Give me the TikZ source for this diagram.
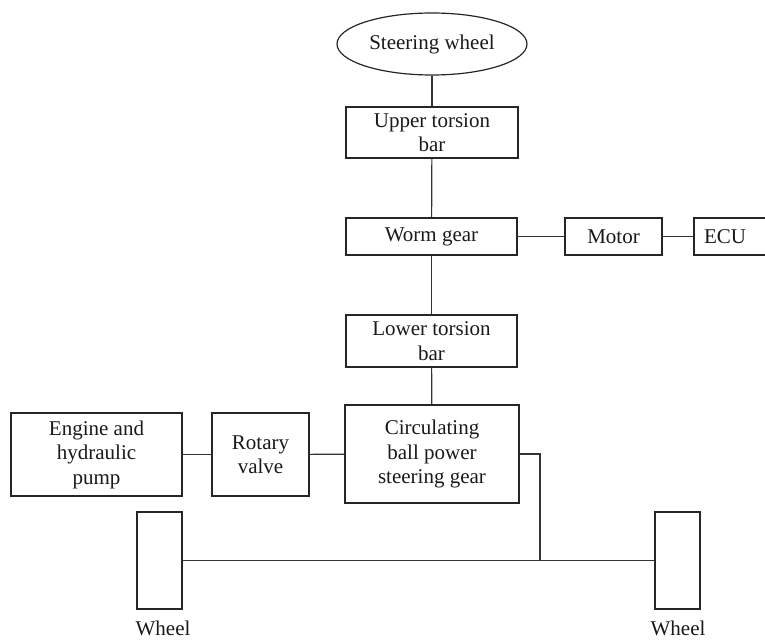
\documentclass[tikz,border=0pt]{standalone}
\usepackage{fontspec}
\setmainfont{Liberation Serif}
\usetikzlibrary{shapes.geometric}
\begin{document}
\begin{tikzpicture}[x=1pt,y=-1pt,
  every node/.style={font=\fontsize{21}{24.5}\selectfont, text=black!90},
  box/.style={draw=black!85, line width=1.2pt, rectangle, inner sep=0pt, align=center},
  oval/.style={draw=black!85, line width=1.2pt, ellipse, inner sep=0pt},
  conn/.style={draw=black!80, line width=1.2pt},
  lbl/.style={inner sep=0pt}]
\useasboundingbox (0,0) rectangle (765,644);
\node[oval, minimum width=190, minimum height=62] (sw) at (432,44) {Steering wheel};
\node[box, minimum width=172, minimum height=51] (utb) at (432,132.5) {Upper torsion\\bar};
\node[box, minimum width=171, minimum height=37] (wg) at (431.5,236.5) {Worm gear};
\node[box, minimum width=97, minimum height=37] (mot) at (613.5,236.5) {Motor};
\node[box, minimum width=76, minimum height=37] (ecu) at (732,236.5) {\hspace*{-14pt}ECU};
\node[box, minimum width=171, minimum height=52] (ltb) at (431.5,341) {Lower torsion\\bar};
\node[box, minimum width=174, minimum height=98] (cb) at (432,454) {Circulating\\ball power\\steering gear};
\node[box, minimum width=97, minimum height=83] (rv) at (260.5,454.5) {Rotary\\valve};
\node[box, minimum width=171, minimum height=83] (eng) at (96.5,454.5) {Engine and\\hydraulic\\pump};
\node[box, minimum width=45, minimum height=97] (wl) at (159.5,560.5) {};
\node[box, minimum width=45, minimum height=97] (wr) at (677.5,560.5) {};
\node[lbl] (wll) at (163,628) {Wheel};
\node[lbl] (wrl) at (678,628) {Wheel};
\coordinate (bend) at (540,454);
\coordinate (junc) at (540,560.5);
\draw[conn] (sw) -- (utb);
\draw[conn] (utb) -- (wg);
\draw[conn] (wg) -- (mot);
\draw[conn] (mot) -- (ecu);
\draw[conn] (wg) -- (ltb);
\draw[conn] (ltb) -- (cb);
\draw[conn] (eng) -- (rv);
\draw[conn] (rv) -- (cb);
\draw[conn] (cb.east) -- (bend) -- (junc);
\draw[conn] (wl) -- (wr);
\end{tikzpicture}
\end{document}
